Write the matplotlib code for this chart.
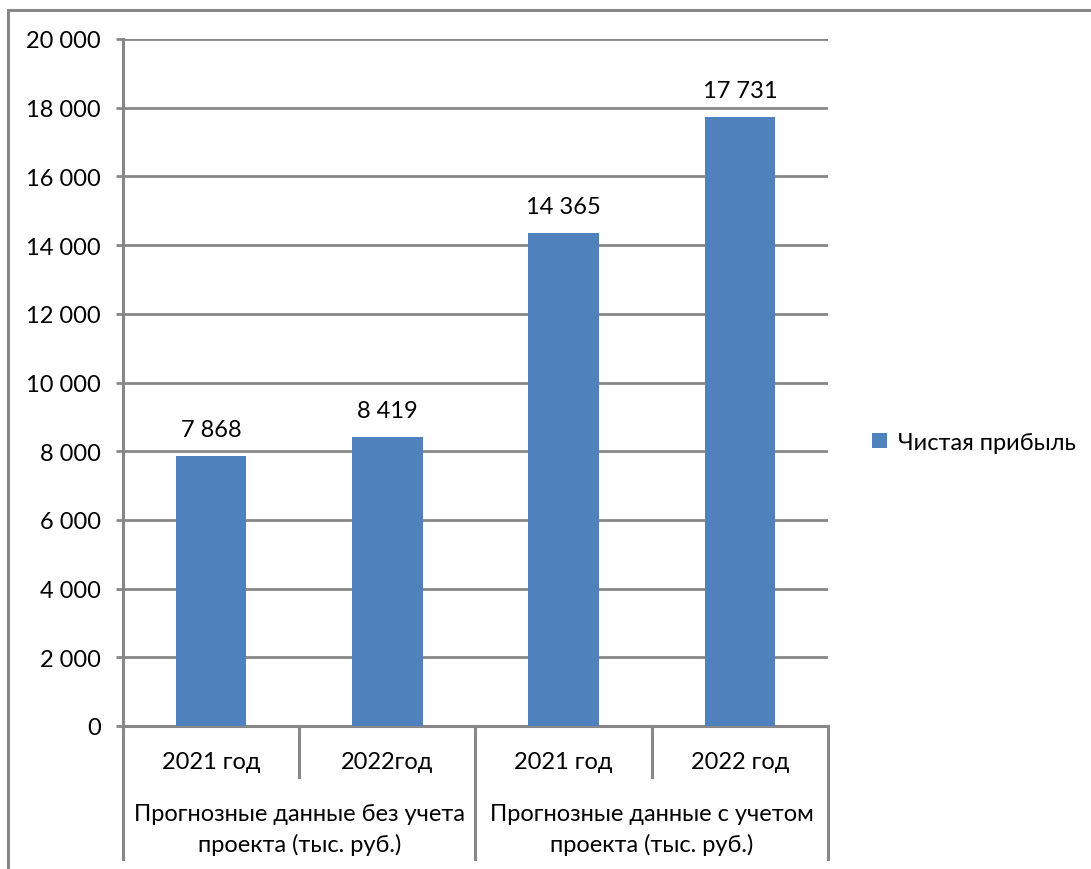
import matplotlib.pyplot as plt
from matplotlib.patches import Rectangle
from matplotlib.lines import Line2D

plt.rcParams['font.family'] = ['Lato', 'DejaVu Sans']

years = ["2021 год", "2022год", "2021 год", "2022 год"]
groups = ["Прогнозные данные без учета\nпроекта (тыс. руб.)",
          "Прогнозные данные с учетом\nпроекта (тыс. руб.)"]
profit = [7868, 8419, 14365, 17731]
series_name = "Чистая прибыль"
yticks = [0, 2000, 4000, 6000, 8000, 10000, 12000, 14000, 16000, 18000, 20000]

bar_color = '#4F81BD'
grid_color = '#878787'
fs = 17


def fmt(v):
    return f"{v:,}".replace(",", " ")


fig = plt.figure(figsize=(10.91, 8.70), dpi=100)
ax = fig.add_axes([123 / 1091, 1 - 727 / 870, 705 / 1091, 687 / 870])

x = list(range(len(profit)))
ax.bar(x, profit, width=0.4, color=bar_color, zorder=3, label=series_name)
for xi, v in zip(x, profit):
    ax.annotate(fmt(v), (xi, v), xytext=(0, 16), textcoords='offset pixels',
                ha='center', va='bottom', fontsize=fs, color='black')

ax.set_xlim(-0.5, len(profit) - 0.5)
ax.set_ylim(0, 20000)
ax.set_yticks(yticks)
ax.set_yticklabels([fmt(t) for t in yticks])
ax.tick_params(axis='y', length=5, width=2, color=grid_color, pad=11, labelsize=fs)
ax.set_xticks([])
ax.grid(axis='y', color=grid_color, linewidth=2, zorder=0)
for s in ['top', 'right']:
    ax.spines[s].set_visible(False)
ax.spines['left'].set_color(grid_color)
ax.spines['left'].set_linewidth(2.2)
ax.spines['bottom'].set_color(grid_color)
ax.spines['bottom'].set_linewidth(2.2)

# two-level category axis
tr = ax.get_xaxis_transform()
for xi, lab in enumerate(years):
    ax.text(xi, -0.051, lab, transform=tr, ha='center', va='center', fontsize=fs)
for gi, lab in enumerate(groups):
    ax.text(gi * 2 + 0.5, -0.150, lab, transform=tr, ha='center', va='center',
            fontsize=fs, linespacing=1.45)
for xb in [0.5, 2.5]:
    ax.add_line(Line2D([xb, xb], [0, -0.074], transform=tr, color=grid_color,
                       linewidth=2.2, clip_on=False))
for xb in [-0.5, 1.5, 3.5]:
    ax.add_line(Line2D([xb, xb], [0, -0.194], transform=tr, color=grid_color,
                       linewidth=2.2, clip_on=False))

ax.legend(loc='center left', bbox_to_anchor=(863 / 1091, 1 - 443 / 870),
          bbox_transform=fig.transFigure, frameon=False, fontsize=fs,
          handlelength=0.6, handleheight=0.6, handletextpad=0.5, borderaxespad=0)

# outer chart frame
fig.patches.append(Rectangle((8 / 1091, -0.1), 1.2, 1 - 11 / 870 + 0.1,
                             transform=fig.transFigure, fill=False,
                             edgecolor=grid_color, linewidth=2.2))

fig.savefig('out.png', dpi=100)
